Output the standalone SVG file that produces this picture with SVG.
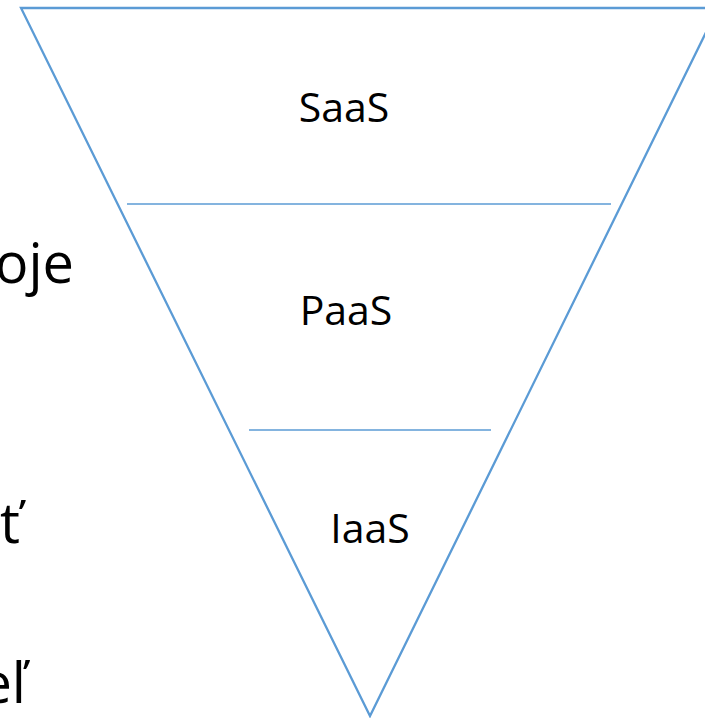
<svg xmlns="http://www.w3.org/2000/svg" width="705" height="718" viewBox="0 0 705 718">
  <style>
    .edge { fill: none; stroke: #5B9BD5; stroke-width: 2.3; stroke-linejoin: miter; }
    .div { stroke: #5B9BD5; stroke-width: 1.5; }
    .lbl { font-family: "Open Sans", "Liberation Sans", sans-serif; font-size: 41px; fill: #000; text-anchor: middle; }
    .side { font-family: "Open Sans", "Liberation Sans", sans-serif; font-size: 56px; fill: #000; text-anchor: end; }
  </style>
  <rect width="705" height="718" fill="#fff"/>
  <g id="side-text">
    <text class="side" x="74" y="283">oje</text>
    <text class="side" x="20" y="543">ť</text>
    <text class="side" x="26" y="703">eľ</text>
  </g>
  <g id="triangle">
    <polygon class="edge" points="21,8 718,8 370,716"/>
  </g>
  <g id="connectors">
    <line class="div" x1="127" y1="204" x2="611" y2="204"/>
    <line class="div" x1="249" y1="430" x2="491" y2="430"/>
  </g>
  <g id="saas"><text class="lbl" x="344" y="122">SaaS</text></g>
  <g id="paas"><text class="lbl" x="346" y="325">PaaS</text></g>
  <g id="iaas"><text class="lbl" x="370" y="543">IaaS</text></g>
</svg>
